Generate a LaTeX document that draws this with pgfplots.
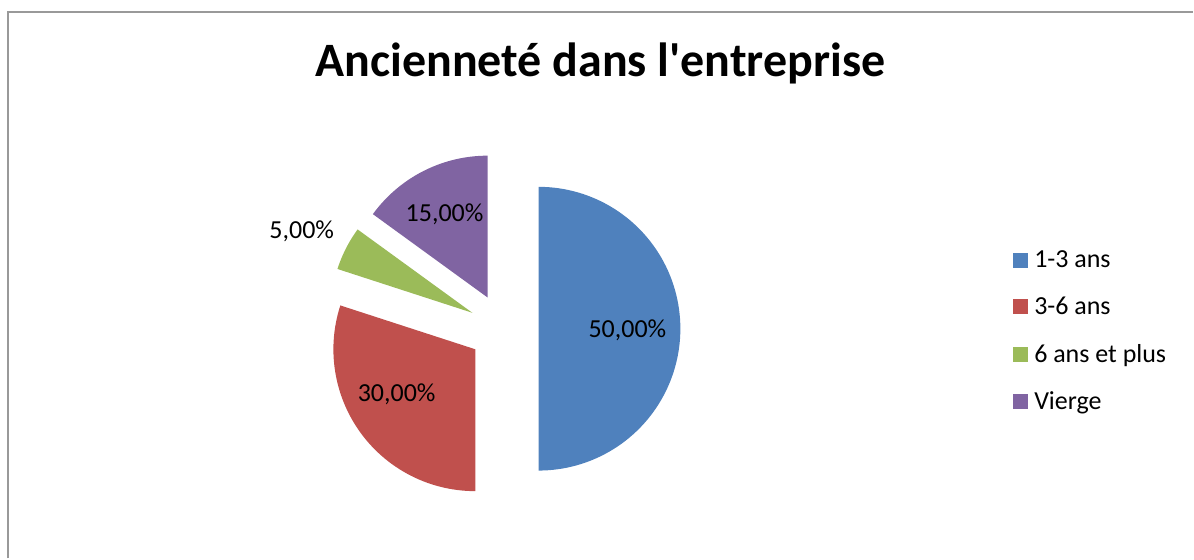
\documentclass[border=0pt]{standalone}
\usepackage{fontspec}
\setmainfont{Carlito}[Ligatures=TeXOff]
\usepackage{pgfplots}
\pgfplotsset{compat=1.18}
\definecolor{cblue}{HTML}{4F81BD}
\definecolor{cred}{HTML}{C0504D}
\definecolor{cgreen}{HTML}{9BBB59}
\definecolor{cpurple}{HTML}{8064A2}
\definecolor{frame}{HTML}{999999}
\begin{document}
\begin{tikzpicture}
\begin{axis}[
  width=1194pt, height=559pt, scale only axis,
  xmin=0, xmax=1194, ymin=0, ymax=559,
  hide axis, clip=false,
  legend cell align=left,
  legend image code/.code={\fill[#1] (0pt,-7.5pt) rectangle (15pt,7.5pt);},
  legend style={draw=none, fill=none, at={(axis cs:1014,309)}, anchor=north west,
    font=\fontsize{26}{30}\selectfont, inner sep=0pt, row sep=26pt,
    nodes={inner sep=1pt},
    /tikz/every odd column/.append style={column sep=5pt}},
]
\path (axis cs:0,0) rectangle (axis cs:1194,559);
% frame
\draw[frame, line width=2.2pt] (axis cs:8,0) -- (axis cs:8,547) -- (axis cs:1194,547);
% 1-3 ans: 50% (math angles -90..90), exploded by 35 at 0 deg
\addplot[fill=cblue, draw=none, domain=-90:90, samples=91, variable=\t]
  ({539+142*cos(\t)},{230+142*sin(\t)}) -- cycle;
\addlegendentry{1-3 ans}
% 3-6 ans: 30% (162..270), exploded at 216 deg
\addplot[fill=cred, draw=none, domain=162:270, samples=61, variable=\t]
  ({475.7+142*cos(\t)},{209.4+142*sin(\t)}) -- (axis cs:475.7,209.4) -- cycle;
\addlegendentry{3-6 ans}
% 6 ans et plus: 5% (144..162), exploded at 153 deg
\addplot[fill=cgreen, draw=none, domain=144:162, samples=15, variable=\t]
  ({472.8+142*cos(\t)},{245.9+142*sin(\t)}) -- (axis cs:472.8,245.9) -- cycle;
\addlegendentry{6 ans et plus}
% Vierge: 15% (90..144), exploded at 117 deg
\addplot[fill=cpurple, draw=none, domain=90:144, samples=31, variable=\t]
  ({488.1+142*cos(\t)},{261.2+142*sin(\t)}) -- (axis cs:488.1,261.2) -- cycle;
\addlegendentry{Vierge}
% labels
\node[font=\fontsize{26}{30}\selectfont] at (axis cs:628,228) {50,00\%};
\node[font=\fontsize{26}{30}\selectfont] at (axis cs:397,164) {30,00\%};
\node[font=\fontsize{26}{30}\selectfont] at (axis cs:445,344) {15,00\%};
\node[font=\fontsize{26}{30}\selectfont] at (axis cs:302,327) {5,00\%};
% title
\node[font=\fontsize{48}{56}\selectfont\bfseries] at (axis cs:601,495) {Ancienneté dans l'entreprise};
\end{axis}
\end{tikzpicture}
\end{document}
